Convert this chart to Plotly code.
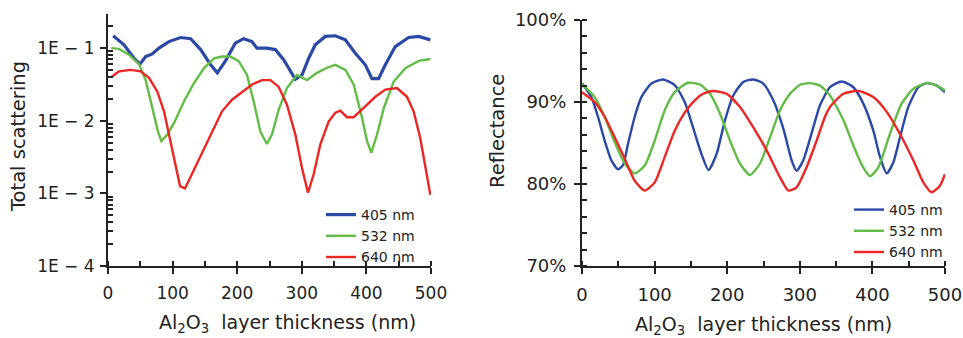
import plotly.graph_objects as go

# ---------------- data: total scattering (left) ----------------
wl_labels = ["405 nm", "532 nm", "640 nm"]

sc_x_405 = [8, 24.8, 40.3, 49.5, 58.3, 68.6, 78.9, 94.4, 112.4, 127.9, 143.4, 158.9, 169.2,
            181.6, 197, 209.9, 222.8, 230.6, 246, 259, 271.9, 282.2, 290, 300.3, 310.6, 320.9,
            336.4, 351.9, 367.4, 382.9, 398.3, 408.6, 418.9, 429.3, 444.7, 465.4, 480.9, 499]
sc_y_405 = [0.148, 0.111, 0.0724, 0.0603, 0.0767, 0.0832, 0.100, 0.123, 0.140, 0.135, 0.0955,
            0.0589, 0.0457, 0.0661, 0.117, 0.135, 0.123, 0.100, 0.100, 0.0955, 0.0692, 0.0479,
            0.0372, 0.0427, 0.0724, 0.111, 0.145, 0.148, 0.130, 0.0851, 0.0589, 0.0380, 0.0380,
            0.0589, 0.105, 0.140, 0.145, 0.130]

sc_x_532 = [5, 17, 32.5, 48, 58.3, 68.6, 77.4, 82.6, 91.9, 102.2, 117.7, 133.2, 148.7, 164.2,
            176.5, 189.4, 202.3, 215.2, 225.5, 235.8, 246, 253.8, 264.1, 277, 292.5, 308, 323.5,
            339, 351.9, 367.4, 380.3, 393.2, 401, 407.7, 416.5, 426.8, 442.3, 460.3, 481, 499]
sc_y_532 = [0.100, 0.0977, 0.0813, 0.0603, 0.0363, 0.0148, 0.00708, 0.00525, 0.00646, 0.00933,
            0.0186, 0.0331, 0.0531, 0.0724, 0.0767, 0.0767, 0.0661, 0.0427, 0.0186, 0.00708,
            0.00479, 0.00646, 0.0141, 0.0282, 0.0427, 0.0363, 0.0457, 0.0537, 0.0589, 0.0501,
            0.0316, 0.0110, 0.00525, 0.00363, 0.00646, 0.0148, 0.0347, 0.0531, 0.0668, 0.0708]

sc_x_640 = [5, 17, 35, 50.6, 63.5, 76.4, 86.7, 94.4, 102.2, 111.5, 119.2, 128, 143.4, 158.9,
            176.5, 192, 207.5, 223, 238.4, 251.3, 264.1, 277, 290, 300.3, 309.6, 318.3, 328.6,
            341.6, 351.9, 359.6, 369.9, 380.3, 398.3, 413.8, 429.3, 447.3, 462.8, 473.1, 483.4,
            491.2, 499]
sc_y_640 = [0.0398, 0.0479, 0.0501, 0.0479, 0.0389, 0.0251, 0.0135, 0.00646, 0.00275, 0.00126,
            0.00117, 0.00170, 0.00324, 0.00646, 0.0135, 0.0195, 0.0251, 0.0316, 0.0363, 0.0363,
            0.0295, 0.0166, 0.00646, 0.00224, 0.00102, 0.00182, 0.00468, 0.00977, 0.0129, 0.0138,
            0.0112, 0.0112, 0.0158, 0.0214, 0.0269, 0.0282, 0.0214, 0.0135, 0.00575, 0.00245,
            0.000955]

# ---------------- data: reflectance (right), in % ----------------
rf_x_405 = [0, 12.8, 22, 31.2, 40.4, 49.6, 56.5, 63.4, 72.6, 81.8, 95.6, 111.6, 127.7, 141.5,
            152.9, 164.4, 174.3, 185.5, 197, 208.4, 222.2, 236, 249.7, 263.5, 277.3, 288.7,
            295.6, 304.8, 318.6, 327.8, 341.6, 357.7, 373.7, 387.5, 401.3, 410.5, 419.7, 428.9,
            438, 449.5, 463.3, 474.8, 488.6, 500]
rf_y_405 = [92.3, 90.6, 88.2, 85.3, 82.9, 81.8, 82.3, 84.9, 88.2, 90.6, 92.25, 92.75, 92.05,
            90.0, 86.9, 83.7, 81.7, 83.7, 87.8, 90.8, 92.45, 92.75, 92.25, 90.2, 86.75, 82.9,
            81.6, 82.9, 86.9, 89.6, 91.8, 92.5, 91.8, 89.8, 86.5, 83.3, 81.3, 82.65, 85.7, 89.4,
            91.8, 92.3, 92.0, 91.2]

rf_x_532 = [0, 17.4, 31.2, 45, 58.8, 72.6, 86.4, 100.2, 114, 127.7, 146, 163, 176.3, 190,
            203.8, 217.6, 231.4, 245.2, 259, 272.8, 286.5, 300.3, 314, 327.8, 341.6, 360, 373.7,
            387.5, 396.7, 408, 424.1, 440.2, 456.3, 474.8, 488.6, 500]
rf_y_532 = [92.2, 90.6, 88.2, 85.1, 82.5, 81.3, 82.25, 85.3, 89.0, 91.2, 92.35, 92.1, 91.0,
            88.6, 85.3, 82.5, 81.1, 82.5, 85.7, 89.0, 91.0, 92.1, 92.3, 92.0, 90.8, 87.8, 84.7,
            82.0, 80.95, 82.0, 86.1, 89.8, 91.6, 92.3, 92.0, 91.4]

rf_x_640 = [0, 17.4, 31.2, 45, 58.8, 72.6, 86.4, 100.2, 114, 127.7, 141.5, 155.3, 166.8, 180.8,
            199.2, 217.6, 236, 254.3, 272.8, 284.3, 295.6, 309.4, 323.2, 334.7, 341.6, 360,
            380.7, 401.3, 419.7, 438, 456.3, 470.1, 481.6, 493, 500]
rf_y_640 = [91.2, 90.0, 88.2, 85.7, 83.1, 80.4, 79.2, 80.2, 83.3, 86.5, 88.7, 90.2, 91.0, 91.35,
            91.0, 89.4, 86.9, 84.1, 80.8, 79.2, 79.6, 82.05, 85.3, 88.2, 89.4, 91.0, 91.35, 90.6,
            88.8, 86.1, 82.9, 80.2, 79.0, 79.8, 81.2]

x_ticks = [0, 100, 200, 300, 400, 500]
sc_tickvals = [1e-4, 1e-3, 1e-2, 1e-1]
sc_ticktext = ["1E \u2212 4", "1E \u2212 3", "1E \u2212 2", "1E \u2212 1"]
rf_tickvals = [70, 80, 90, 100]
rf_ticktext = ["70%", "80%", "90%", "100%"]

colors = ["#2B48A6", "#62BC45", "#EC2624"]
FONT = "DejaVu Sans"
W, H = 963, 338

fig = go.Figure()

sc_sets = [(sc_x_405, sc_y_405), (sc_x_532, sc_y_532), (sc_x_640, sc_y_640)]
sc_widths = [3.2, 2.4, 2.4]
for (xs, ys), name, c, w in zip(sc_sets, wl_labels, colors, sc_widths):
    fig.add_trace(go.Scatter(x=xs, y=ys, mode="lines", name=name, line=dict(color=c, width=w),
                             xaxis="x", yaxis="y", legend="legend"))

rf_sets = [(rf_x_405, rf_y_405), (rf_x_532, rf_y_532), (rf_x_640, rf_y_640)]
for (xs, ys), name, c in zip(rf_sets, wl_labels, colors):
    fig.add_trace(go.Scatter(x=xs, y=ys, mode="lines", name=name,
                             line=dict(color=c, width=2.4, shape="spline", smoothing=0.6),
                             xaxis="x2", yaxis="y2", legend="legend2"))

axis_common = dict(showline=True, linecolor="#222", linewidth=2, showgrid=False, zeroline=False,
                   ticks="outside", ticklen=6, tickwidth=1.6, tickcolor="#222",
                   automargin=False)

y_bot = 1 - 266 / H

fig.update_layout(
    width=W, height=H, margin=dict(l=0, r=0, t=0, b=0, autoexpand=False),
    paper_bgcolor="white", plot_bgcolor="white",
    font=dict(family=FONT, color="#222"),
    xaxis=dict(domain=[108 / W, 431 / W], range=[0, 500], tickvals=x_ticks,
               tickfont=dict(size=17, family=FONT, color="#222"), ticklabelstandoff=5,
               minor=dict(dtick=50, ticks="inside", ticklen=5, tickwidth=1.5, tickcolor="#222"),
               anchor="y", **axis_common),
    yaxis=dict(domain=[y_bot, 1 - 14 / H], type="log", range=[-4, -0.53],
               tickmode="array", tickvals=sc_tickvals, ticktext=sc_ticktext,
               tickfont=dict(size=17, family=FONT, color="#222"), ticklabelstandoff=2,
               minor=dict(tickmode="array",
                          tickvals=[k * 10.0 ** e for e in range(-4, 0) for k in range(2, 10)],
                          ticks="inside", ticklen=5, tickwidth=1.5, tickcolor="#222"),
               anchor="x", **axis_common),
    xaxis2=dict(domain=[582 / W, 945 / W], range=[0, 500], tickvals=x_ticks,
                tickfont=dict(size=18, family=FONT, color="#222"), ticklabelstandoff=5,
                minor=dict(dtick=50, ticks="inside", ticklen=5, tickwidth=1.5, tickcolor="#222"),
                anchor="y2", **axis_common),
    yaxis2=dict(domain=[y_bot, 1 - 20 / H], range=[70, 100],
                tickmode="array", tickvals=rf_tickvals, ticktext=rf_ticktext,
                tickfont=dict(size=18, family=FONT, color="#222"), ticklabelstandoff=4,
                minor=dict(dtick=2, ticks="inside", ticklen=5, tickwidth=1.5, tickcolor="#222"),
                anchor="x2", **axis_common),
    legend=dict(x=321 / W, y=1 - 199 / H, xanchor="left", yanchor="top",
                font=dict(size=14, family=FONT, color="#222"), bgcolor="rgba(0,0,0,0)",
                tracegroupgap=0),
    legend2=dict(x=849 / W, y=1 - 194 / H, xanchor="left", yanchor="top",
                 font=dict(size=14, family=FONT, color="#222"), bgcolor="rgba(0,0,0,0)",
                 tracegroupgap=0),
    showlegend=True,
)

xtitle = "Al<sub>2</sub>O<sub>3</sub>\u00a0\u00a0layer thickness (nm)"
annots = [
    dict(text=xtitle, x=287 / W, y=1 - 323 / H, font=dict(size=19, family=FONT, color="#222")),
    dict(text=xtitle, x=763 / W, y=1 - 325 / H, font=dict(size=19, family=FONT, color="#222")),
    dict(text="Total scattering", x=18 / W, y=1 - 137 / H, textangle=-90,
         font=dict(size=19.5, family=FONT, color="#222")),
    dict(text="Reflectance", x=497 / W, y=1 - 131 / H, textangle=-90,
         font=dict(size=19.5, family=FONT, color="#222")),
]
for a in annots:
    fig.add_annotation(xref="paper", yref="paper", showarrow=False, xanchor="center",
                       yanchor="middle", **a)

fig.write_html("out.html")
